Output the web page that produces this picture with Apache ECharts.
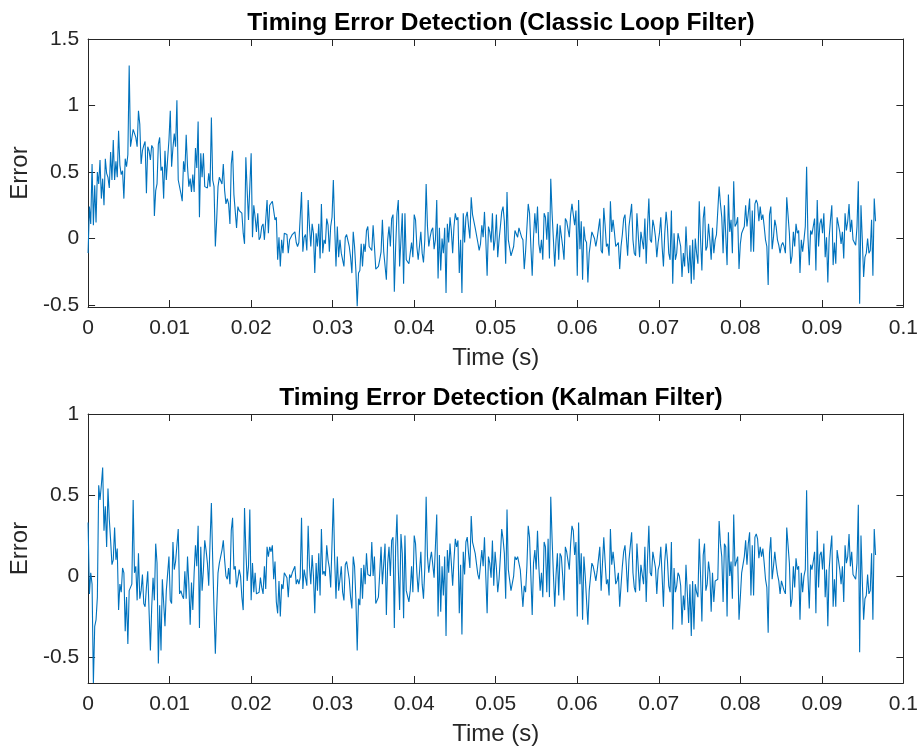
<!DOCTYPE html>
<html>
<head>
<meta charset="utf-8">
<script src="https://cdn.jsdelivr.net/npm/echarts@6/dist/echarts.min.js"></script>
<style>
  html, body { margin: 0; padding: 0; background: #ffffff; }
  #chart { width: 921px; height: 752px; }
</style>
</head>
<body>
<div id="chart"></div>
<script>
// Sample period of the timing-error log (s)
const DT = 0.0001626;

// Timing error, classic loop filter
const classicErr = [
  -0.11,0.24,0.11,0.56,0.10,0.40,0.12,0.50,0.41,0.59,
  0.30,0.45,0.25,0.60,0.49,0.46,0.38,0.65,0.44,0.74,
  0.44,0.58,0.46,0.81,0.55,0.48,0.51,0.30,0.60,0.54,
  0.63,1.30,0.69,0.69,0.82,0.81,0.76,0.69,0.96,0.86,
  0.56,0.66,0.70,0.73,0.34,0.69,0.66,0.59,0.70,0.68,
  0.17,0.36,0.41,0.71,0.76,0.51,0.54,0.30,0.66,0.44,
  0.60,0.74,0.96,0.54,0.68,0.79,0.69,1.04,0.44,0.39,
  0.34,0.28,0.58,0.50,0.78,0.54,0.39,0.45,0.35,0.48,
  0.35,0.68,0.53,0.88,0.16,0.64,0.46,0.64,0.39,0.39,
  0.38,0.49,0.39,0.91,0.44,0.39,-0.06,0.14,0.39,0.46,
  0.45,0.41,0.56,0.36,0.26,0.30,0.26,0.11,0.56,0.66,
  0.33,0.34,0.08,0.24,0.21,0.21,0.19,0.04,
  -0.04,0.61,0.36,0.14,0.39,0.64,0.01,0.25,0.16,0.05,
  0.19,-0.01,0.01,0.09,0.11,-0.01,0.14,0.29,0.04,0.25,
  0.24,0.28,0.29,0.14,0.16,-0.16,0.01,-0.21,-0.01,-0.11,
  0.04,0.04,0.03,-0.11,-0.01,0.01,0.03,0.04,0.05,-0.03,
  -0.06,-0.03,-0.04,0.35,-0.10,0.01,0.03,-0.09,0.29,0.09,
  -0.06,0.11,0.04,-0.26,0.04,-0.06,0.11,-0.15,0.26,-0.11,
  -0.01,-0.04,0.15,0.10,-0.10,0.09,0.16,0.44,0.09,-0.21,
  0.09,-0.14,-0.01,-0.11,-0.16,-0.21,0.01,0.03,0.04,-0.06,
  -0.14,-0.26,0.05,-0.06,-0.24,-0.51,-0.26,-0.24,-0.04,-0.21,
  -0.04,-0.10,0.06,0.09,-0.06,-0.06,-0.09,0.10,-0.06,-0.23,
  -0.23,-0.21,-0.16,-0.10,0.14,-0.10,-0.09,-0.31,-0.01,0.09,
  -0.06,0.15,0.18,-0.40,-0.06,0.19,0.29,-0.21,-0.01,0.19,
  -0.34,0.19,-0.16,-0.16,-0.19,-0.20,-0.03,-0.14,0.18,0.14,
  -0.06,-0.16,-0.15,0.05,-0.11,-0.18,-0.01,0.41,0.09,-0.06,
  0.01,0.06,0.08,-0.08,-0.01,0.29,-0.30,0.08,-0.24,0.00,
  -0.11,0.08,-0.41,0.11,-0.03,0.16,0.06,-0.11,0.09,0.19,
  0.14,0.16,-0.26,-0.01,-0.41,0.19,-0.03,0.16,0.20,0.09,
  0.00,0.31,0.18,0.19,0.08,0.09,-0.03,-0.09,-0.04,0.10,
  0.01,0.20,-0.01,-0.28,0.09,0.05,-0.03,0.19,-0.09,-0.01,
  0.18,-0.14,-0.01,0.09,0.20,0.24,0.13,-0.19,0.35,-0.01,
  -0.01,-0.13,-0.14,-0.06,0.06,0.06,0.01,0.08,0.08,0.01,
  -0.01,-0.23,-0.10,-0.11,0.26,0.19,-0.06,-0.28,0.01,0.19,
  0.04,0.24,-0.04,-0.11,-0.01,-0.16,0.19,0.16,-0.01,0.20,
  -0.15,0.45,0.19,-0.01,-0.21,-0.01,0.11,-0.16,0.10,0.09,
  -0.06,
  -0.16,0.15,0.13,0.13,0.01,0.18,0.26,0.26,0.10,0.21,
  -0.28,0.29,-0.08,0.13,-0.31,0.09,-0.01,-0.03,-0.33,-0.11,
  -0.10,0.05,0.04,0.00,-0.06,0.00,0.01,0.15,-0.09,-0.11,
  0.23,0.10,-0.06,-0.04,-0.13,0.28,0.05,0.14,0.05,-0.06,
  -0.05,-0.03,-0.23,-0.06,0.03,0.15,0.18,0.01,-0.13,0.09,
  0.10,0.26,-0.01,-0.11,-0.13,0.19,0.19,-0.14,0.05,0.04,
  -0.08,0.15,-0.19,0.09,0.30,-0.01,-0.03,0.14,0.09,0.01,
  -0.14,-0.03,0.04,0.16,-0.06,-0.21,0.04,0.20,0.09,-0.11,
  -0.16,0.21,-0.34,0.04,-0.16,-0.11,0.04,-0.01,-0.06,-0.29,
  -0.11,-0.21,0.09,-0.13,-0.26,-0.05,-0.34,-0.01,-0.31,0.00,
  -0.11,-0.19,0.28,-0.01,-0.24,0.15,0.24,-0.09,-0.06,0.11,
  -0.01,-0.16,0.08,-0.11,-0.01,0.03,0.04,0.39,0.26,0.16,
  -0.11,0.25,0.24,-0.20,0.33,0.05,0.14,-0.11,0.43,0.09,
  0.11,0.16,-0.23,-0.04,0.04,0.05,0.09,0.25,0.09,0.19,
  0.30,-0.10,0.21,-0.10,0.26,0.29,0.26,0.13,0.24,0.14,
  0.18,0.09,-0.01,-0.06,-0.35,0.18,0.24,-0.08,0.01,0.14,
  0.09,-0.01,-0.05,-0.11,-0.05,-0.03,-0.06,-0.11,0.31,0.32,
  0.04,-0.19,-0.13,0.05,-0.06,0.11,0.04,0.06,-0.26,-0.01,
  -0.10,-0.01,0.09,0.54,0.01,-0.20,0.06,0.03,0.09,0.15,
  -0.24,0.29,-0.06,0.11,0.15,0.04,0.19,-0.14,0.01,-0.33,
  0.01,0.14,0.25,-0.20,-0.03,-0.19,0.16,0.15,0.05,-0.04,
  0.05,-0.15,0.19,0.06,0.13,0.26,0.05,0.14,-0.01,-0.01,
  -0.05,0.09,0.43,-0.49,0.25,-0.01,-0.29,-0.14,-0.11,0.00,
  -0.11,-0.09,0.14,-0.28,0.30,0.13
];

// Timing error, Kalman filter
const kalmanErr = [
  0.33,-0.11,0.02,-0.05,-0.66,-0.31,-0.27,-0.13,0.56,0.47,0.56,0.67,
  0.28,0.43,0.18,0.54,0.35,
  0.22,0.07,0.10,0.30,0.10,0.17,-0.21,-0.05,-0.10,0.05,
  0.02,-0.34,-0.13,-0.42,-0.09,-0.08,-0.05,0.47,0.02,0.06,
  -0.15,0.14,-0.14,-0.09,0.01,-0.17,-0.19,-0.07,0.03,
  0.02,-0.46,-0.19,-0.01,-0.15,0.20,0.08,-0.54,-0.18,-0.46,
  -0.02,-0.03,-0.31,-0.09,-0.09,0.12,-0.15,-0.17,0.21,
  0.04,0.09,0.10,0.29,-0.11,-0.09,-0.12,-0.14,0.03,
  -0.14,0.12,-0.05,-0.30,-0.04,-0.21,0.02,0.19,0.06,
  0.31,-0.32,0.18,-0.09,0.04,0.22,0.16,0.08,-0.06,0.21,
  0.45,0.10,-0.21,-0.48,-0.21,0.02,0.08,0.12,0.16,0.22,
  0.10,0.00,-0.02,0.05,-0.05,0.28,0.36,0.04,0.06,-0.07,
  -0.02,0.04,0.00,-0.13,
  -0.21,0.42,0.16,-0.03,0.06,0.41,-0.15,0.08,-0.10,0.02,
  -0.11,-0.12,-0.10,-0.01,-0.07,-0.11,0.06,-0.08,0.18,0.12,
  0.18,0.15,0.19,-0.02,0.09,-0.16,-0.23,-0.03,-0.25,-0.05,
  -0.08,0.02,0.01,-0.01,-0.13,0.01,-0.01,0.02,0.03,0.06,
  -0.05,-0.02,-0.05,-0.01,0.36,-0.08,0.04,0.04,-0.06,0.31,
  0.06,-0.05,0.13,0.00,-0.23,0.08,-0.09,0.14,-0.12,0.29,
  0.01,0.03,0.00,0.19,0.10,0.05,-0.07,0.20,0.48,0.10,
  -0.14,0.12,-0.09,-0.02,0.06,-0.10,-0.15,0.07,0.09,0.08,
  -0.02,-0.13,-0.20,0.12,0.06,-0.14,-0.46,-0.14,-0.18,0.05,
  -0.14,0.07,-0.05,0.14,0.01,0.02,0.00,0.21,0.00,0.12,
  -0.17,-0.18,-0.13,0.02,0.18,-0.05,-0.05,0.20,-0.24,0.08,
  0.18,0.00,0.22,0.24,-0.32,0.18,0.38,0.04,-0.21,0.26,
  0.14,
  -0.26,0.25,-0.09,-0.10,-0.16,-0.09,0.06,-0.10,0.25,0.20,
  0.02,-0.10,-0.09,0.15,-0.05,-0.14,0.05,0.49,0.12,0.02,
  0.10,0.15,0.16,-0.01,0.00,0.38,-0.25,0.13,-0.22,0.06,
  -0.12,0.12,-0.37,0.16,0.02,0.20,0.08,-0.06,0.10,0.23,
  0.18,0.22,-0.23,0.07,-0.36,0.15,0.01,0.21,0.24,0.14,
  0.05,0.37,0.21,0.21,0.14,0.14,0.01,-0.02,-0.03,0.16,
  0.06,0.24,0.00,-0.23,0.12,0.08,-0.01,0.22,-0.06,0.15,
  0.05,-0.10,-0.02,0.12,0.29,0.23,0.14,-0.14,0.41,0.04,
  0.04,-0.09,-0.08,0.00,0.12,0.10,0.12,0.13,0.04,0.04,
  -0.19,-0.06,-0.10,0.06,0.31,0.24,0.00,-0.24,0.08,0.16,
  0.04,0.28,0.06,-0.09,0.02,-0.13,0.21,0.18,-0.10,0.23,
  -0.13,0.49,0.23,0.01,-0.19,0.01,0.14,-0.12,0.14,0.12,
  0.00,
  -0.15,0.18,0.15,0.15,0.04,0.20,0.31,0.28,0.13,0.21,
  -0.25,0.33,-0.05,0.14,-0.27,0.12,0.00,0.01,-0.30,-0.09,
  -0.08,0.08,0.06,0.02,-0.03,0.03,0.04,0.18,-0.09,-0.10,
  0.24,0.09,-0.05,-0.02,-0.12,0.29,0.07,0.15,0.07,-0.05,
  -0.03,0.02,-0.19,-0.06,0.06,0.15,0.19,0.06,-0.10,0.10,
  0.09,0.27,0.02,-0.07,-0.10,0.20,0.20,-0.09,0.07,0.06,
  -0.05,0.18,-0.16,0.11,0.31,0.02,0.00,0.15,0.10,0.05,
  -0.11,0.04,0.07,0.18,0.00,-0.19,0.09,0.20,0.10,-0.06,
  -0.10,0.21,-0.33,0.05,-0.10,-0.06,0.02,0.00,-0.06,-0.30,
  -0.12,-0.21,0.07,-0.10,-0.29,-0.05,-0.37,-0.03,-0.33,-0.05,
  -0.10,-0.13,0.23,0.00,-0.28,0.13,0.20,-0.09,-0.05,0.09,
  0.02,-0.22,0.02,-0.16,-0.03,-0.02,-0.02,0.34,0.20,0.12,
  -0.16,0.20,0.18,-0.25,0.27,0.00,0.09,-0.14,0.38,0.06,
  0.07,0.12,-0.27,-0.13,0.02,0.02,0.12,0.22,0.07,0.20,
  0.27,-0.12,0.19,-0.12,0.24,0.26,0.23,0.11,0.18,0.12,
  0.17,0.08,-0.02,-0.07,-0.35,0.14,0.24,-0.02,0.06,0.15,
  0.07,0.01,-0.03,-0.11,-0.03,-0.03,-0.09,-0.11,0.30,0.31,
  0.08,-0.19,-0.14,0.06,-0.07,0.11,0.04,0.06,-0.27,0.02,
  -0.10,0.00,0.04,0.53,0.00,-0.20,0.07,0.04,0.09,0.15,
  -0.23,0.28,-0.07,0.13,0.15,0.04,0.20,-0.13,0.04,-0.31,
  0.04,0.16,0.25,-0.19,-0.02,-0.19,0.16,0.16,0.04,-0.05,
  0.06,-0.16,0.19,0.08,0.12,0.26,0.06,0.15,0.01,0.01,
  -0.02,0.08,0.44,-0.47,0.25,-0.03,-0.27,-0.14,-0.12,0.01,
  -0.11,-0.09,0.14,-0.27,0.29,0.13
];

// Axis ticks and labels
const xTickLabels = ['0','0.01','0.02','0.03','0.04','0.05','0.06','0.07','0.08','0.09','0.1'];
const yTicksTop = [-0.5, 0, 0.5, 1, 1.5];
const yTicksBottom = [-0.5, 0, 0.5, 1];
const titles = ['Timing Error Detection (Classic Loop Filter)', 'Timing Error Detection (Kalman Filter)'];

const FONT = '"Liberation Sans", Arial, Helvetica, sans-serif';
const AX = '#262626';
const LINE = '#0072BD';

function toPoints(vals) {
  return vals.map((v, i) => [i * DT, v]);
}

function xAxisPair(grid) {
  const base = {
    gridIndex: grid, type: 'value', min: 0, max: 0.1, interval: 0.01,
    axisLine: { show: true, onZero: false, lineStyle: { color: AX, width: 1 } },
    axisTick: { show: true, inside: true, length: 7, lineStyle: { color: AX, width: 1 } },
    splitLine: { show: false }
  };
  return [
    Object.assign({}, base, {
      position: 'bottom',
      name: 'Time (s)',
      nameLocation: 'middle', nameGap: 39,
      nameTextStyle: { fontFamily: FONT, fontSize: 24, color: AX },
      axisLabel: {
        show: true, margin: 11, fontFamily: FONT, fontSize: 21, color: AX,
        formatter: v => xTickLabels[Math.round(v / 0.01)]
      }
    }),
    Object.assign({}, base, { position: 'top', axisLabel: { show: false } })
  ];
}

function yAxisPair(grid, min, max, ticks) {
  const base = {
    gridIndex: grid, type: 'value', min: min, max: max,
    axisLine: { show: true, onZero: false, lineStyle: { color: AX, width: 1 } },
    axisTick: { show: true, inside: true, length: 7, customValues: ticks, lineStyle: { color: AX, width: 1 } },
    splitLine: { show: false }
  };
  return [
    Object.assign({}, base, {
      position: 'left',
      name: 'Error', nameLocation: 'middle', nameGap: 51, nameRotate: 90,
      nameTextStyle: { fontFamily: FONT, fontSize: 24, color: AX },
      axisLabel: {
        show: true, margin: 9, fontFamily: FONT, fontSize: 21, color: AX,
        customValues: ticks, formatter: v => String(v)
      }
    }),
    Object.assign({}, base, { position: 'right', axisLabel: { show: false } })
  ];
}

const chart = echarts.init(document.getElementById('chart'), null, { renderer: 'canvas' });

chart.setOption({
  animation: false,
  backgroundColor: '#ffffff',
  title: [
    { text: titles[0], left: 496, top: 6, textAlign: 'center',
      textStyle: { fontFamily: FONT, fontSize: 24.5, fontWeight: 'bold', color: '#000000' } },
    { text: titles[1], left: 496, top: 381, textAlign: 'center',
      textStyle: { fontFamily: FONT, fontSize: 24.5, fontWeight: 'bold', color: '#000000' } }
  ],
  grid: [
    { left: 87, top: 39, width: 818, height: 268 },
    { left: 87, top: 414, width: 818, height: 269 }
  ],
  xAxis: [].concat(xAxisPair(0), xAxisPair(1)),
  yAxis: [].concat(yAxisPair(0, -0.515, 1.5, yTicksTop), yAxisPair(1, -0.66, 1, yTicksBottom)),
  series: [
    { type: 'line', xAxisIndex: 0, yAxisIndex: 0, data: toPoints(classicErr),
      showSymbol: false, clip: true, lineStyle: { color: LINE, width: 1.1 } },
    { type: 'line', xAxisIndex: 2, yAxisIndex: 2, data: toPoints(kalmanErr),
      showSymbol: false, clip: true, lineStyle: { color: LINE, width: 1.1 } }
  ]
});
</script>
</body>
</html>
